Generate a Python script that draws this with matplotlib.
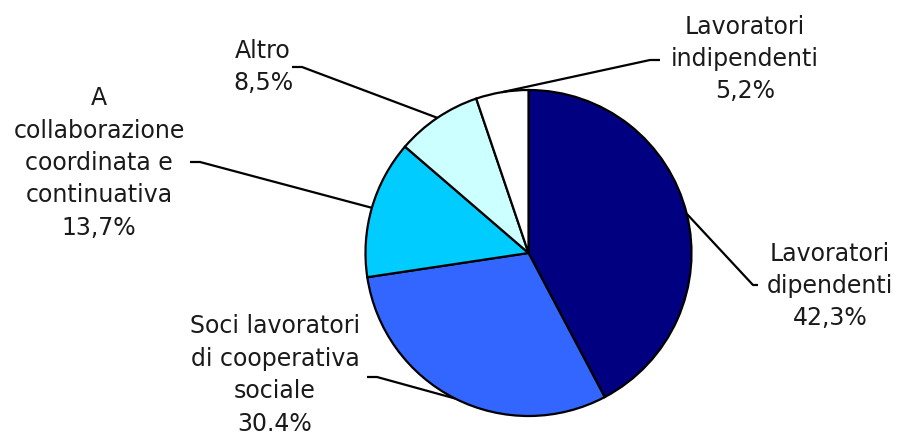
import numpy as np
import matplotlib
matplotlib.use("Agg")
import matplotlib.pyplot as plt

# Data
categories = [
    "Lavoratori\ndipendenti",
    "Soci lavoratori\ndi cooperativa\nsociale",
    "A\ncollaborazione\ncoordinata e\ncontinuativa",
    "Altro",
    "Lavoratori\nindipendenti",
]
shares = [42.3, 30.4, 13.7, 8.5, 5.2]
share_labels = ["42,3%", "30.4%", "13,7%", "8,5%", "5,2%"]
colors = ["#000080", "#3366FF", "#00CCFF", "#CCFFFF", "#FFFFFF"]

# Layout (pixel coordinates, y down)
W, H = 899, 434
CENTER = (528.5, 253)
RADIUS = 163
# elbow start, elbow end, text centre for each label
ELBOWS = [
    ((753, 285), (758, 285), (830, 286)),
    ((377, 377), (367, 377), (275, 375)),
    ((200, 162), (190, 162), (99, 163)),
    ((302, 67), (292, 67), (263, 67)),
    ((650, 60), (660, 60), (745, 59)),
]

plt.rcParams["font.family"] = ["DejaVu Sans"]

fig = plt.figure(figsize=(W / 100, H / 100), dpi=100)
ax = fig.add_axes([0, 0, 1, 1])

# y axis is inverted, so data-counterclockwise from -90 reads clockwise from the top
wedges, _ = ax.pie(
    shares,
    colors=colors,
    startangle=-90,
    counterclock=True,
    center=CENTER,
    radius=RADIUS,
    wedgeprops=dict(edgecolor="black", linewidth=1.6),
    frame=True,
)
ax.set_xlim(0, W)
ax.set_ylim(H, 0)
ax.axis("off")

for wedge, cat, lab, (p1, p2, tpos) in zip(wedges, categories, share_labels, ELBOWS):
    mid = np.deg2rad((wedge.theta1 + wedge.theta2) / 2)
    x0 = CENTER[0] + RADIUS * np.cos(mid)
    y0 = CENTER[1] + RADIUS * np.sin(mid)
    ax.plot([x0, p1[0], p2[0]], [y0, p1[1], p2[1]], color="black", lw=1.6,
            solid_capstyle="butt", zorder=5)
    ax.text(tpos[0], tpos[1], f"{cat}\n{lab}", ha="center", va="center",
            multialignment="center", fontsize=17, linespacing=1.44,
            color="#1a1a1a")

fig.savefig("out.png", dpi=100)
